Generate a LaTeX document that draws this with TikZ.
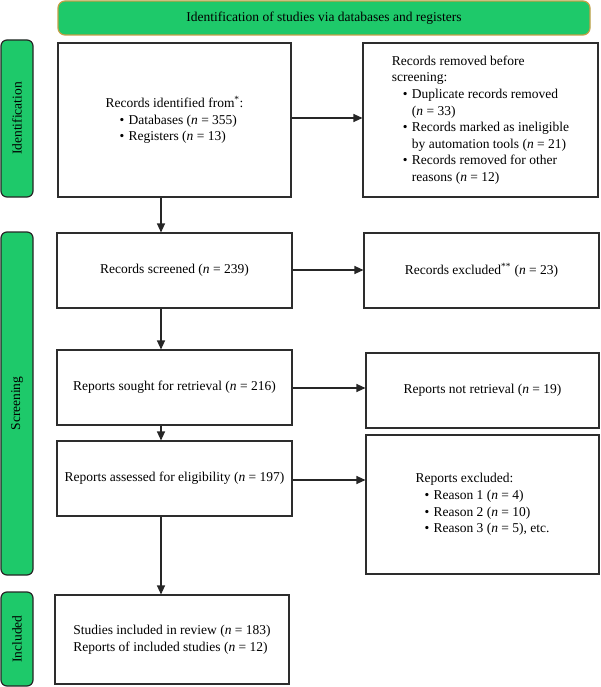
\documentclass[tikz,border=0pt]{standalone}
\usepackage{fontspec}
\setmainfont{Liberation Serif}
\usetikzlibrary{arrows.meta}
\definecolor{pgreen}{RGB}{30,201,106}
\definecolor{pgold}{RGB}{196,160,70}
\definecolor{pline}{RGB}{45,45,45}
\newcommand{\nn}[1]{(\textit{n} = #1)}
\newcommand{\bu}[1]{\hspace*{#1}\makebox[9pt][l]{\textbullet}}
\begin{document}
\begin{tikzpicture}[x=1pt,y=-1pt,
  every node/.style={font=\fontsize{13.5}{16.6}\selectfont, inner sep=0pt},
  box/.style={draw=pline, line width=1.1pt, fill=white, align=left},
  side/.style={draw=black!85, line width=1.2pt, fill=pgreen, rounded corners=6pt, minimum width=32pt},
  banner/.style={draw=pgold, line width=1.2pt, fill=pgreen, rounded corners=7pt},
  arr/.style={draw=black!85, line width=1.1pt, -{Triangle[length=9pt,width=8pt]}}]
\useasboundingbox (0,0) rectangle (600,687);
% banner
\node[banner, minimum width=532pt, minimum height=34pt] (ban) at (324,18) {Identification of studies via databases and registers};
% side labels
\node[side, minimum height=157pt] (sid) at (17,118.5) {};
\node[rotate=90] (sidt) at (sid.center) {Identification};
\node[side, minimum height=343pt] (ssc) at (17,403.5) {};
\node[rotate=90] (ssct) at (ssc.center) {Screening};
\node[side, minimum height=94pt] (sin) at (17,639) {};
\node[rotate=90] (sint) at (sin.center) {Included};
% boxes
\node[box, minimum width=233pt, minimum height=154pt] (id) at (174.5,120)
  {Records identified from\textsuperscript{*}:\\
   \bu{14pt}Databases \nn{355}\\
   \bu{14pt}Registers \nn{13}};
\node[box, minimum width=235pt, minimum height=154pt] (rem) at (480.5,120)
  {Records removed before\\
   screening:\\
   \bu{11pt}Duplicate records removed\\
   \hspace*{20pt}\nn{33}\\
   \bu{11pt}Records marked as ineligible\\
   \hspace*{20pt}by automation tools \nn{21}\\
   \bu{11pt}Records removed for other\\
   \hspace*{20pt}reasons \nn{12}};
\node[box, minimum width=235pt, minimum height=75pt] (scr) at (174.5,270.5) {Records screened \nn{239}};
\node[box, minimum width=235pt, minimum height=75pt] (exc) at (481.5,270.5) {Records excluded\textsuperscript{**} \nn{23}};
\node[box, minimum width=235pt, minimum height=75pt] (sou) at (174.5,387.5) {Reports sought for retrieval \nn{216}};
\node[box, minimum width=233pt, minimum height=75pt] (nrt) at (482.5,390.5) {Reports not retrieval \nn{19}};
\node[box, minimum width=235pt, minimum height=75pt] (ass) at (174.5,478.5) {Reports assessed for eligibility \nn{197}};
\node[box, minimum width=233pt, minimum height=139pt] (rex) at (482.5,504.5)
  {Reports excluded:\\
   \bu{9pt}Reason 1 \nn{4}\\
   \bu{9pt}Reason 2 \nn{10}\\
   \bu{9pt}Reason 3 \nn{5}, etc.};
\node[box, minimum width=234pt, minimum height=89pt] (inc) at (172,639.5)
  {Studies included in review \nn{183}\\
   Reports of included studies \nn{12}};
% connectors
\coordinate (col) at (161,0);
\draw[arr] (id.south -| col) -- (scr.north -| col);
\draw[arr] (scr.south -| col) -- (sou.north -| col);
\draw[arr] (sou.south -| col) -- (ass.north -| col);
\draw[arr] (ass.south -| col) -- (inc.north -| col);
\coordinate (h1) at (0,118);
\coordinate (h2) at (0,270);
\coordinate (h3) at (0,388);
\coordinate (h4) at (0,480);
\draw[arr] (id.east |- h1) -- (rem.west |- h1);
\draw[arr] (scr.east |- h2) -- (exc.west |- h2);
\draw[arr] (sou.east |- h3) -- (nrt.west |- h3);
\draw[arr] (ass.east |- h4) -- (rex.west |- h4);
\end{tikzpicture}
\end{document}
